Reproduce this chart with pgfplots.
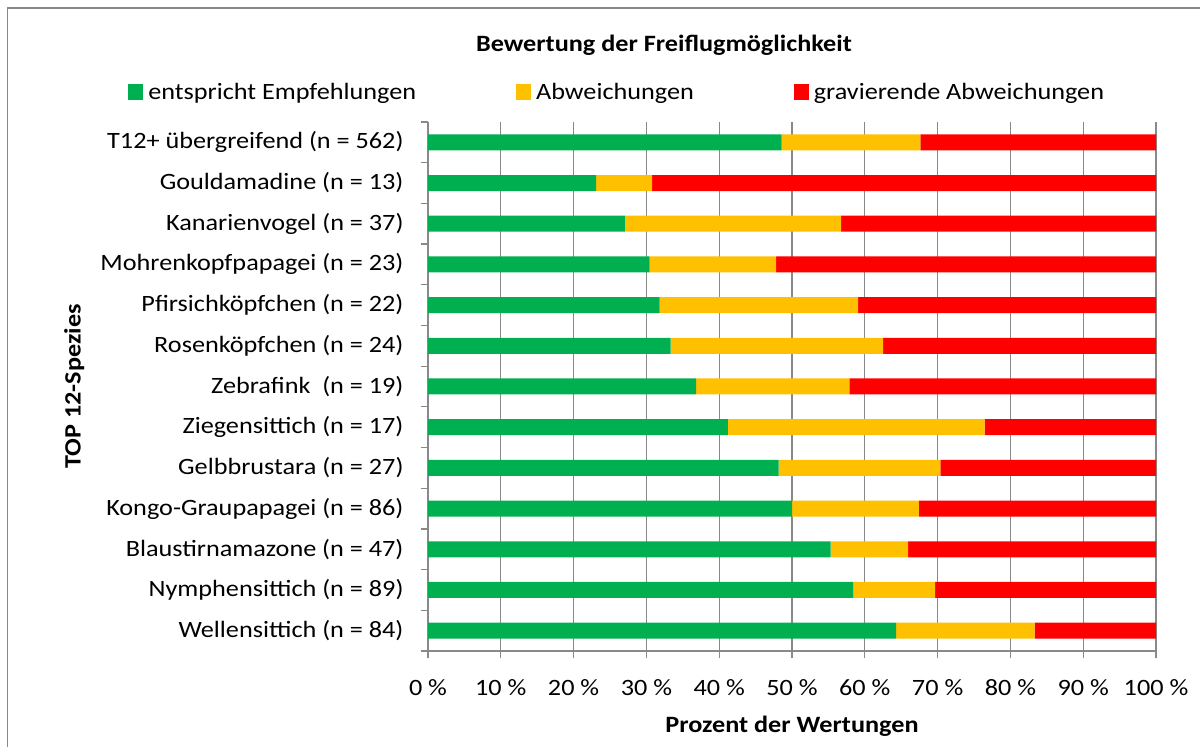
\documentclass[border=0pt]{standalone}
\usepackage{pgfplots}
\pgfplotsset{compat=1.18}
\usepackage{fontspec}
\setmainfont{Carlito}[FakeStretch=1.12]
\definecolor{cgreen}{HTML}{00B050}
\definecolor{cyellow}{HTML}{FFC000}
\definecolor{cred}{HTML}{FF0000}
\definecolor{cgrid}{HTML}{898989}
\newcommand{\fs}{\fontsize{23.5}{28}\selectfont}
\begin{document}
\begin{tikzpicture}[x=1bp,y=1bp]
\path[use as bounding box] (0,0) rectangle (1200,747);
\draw[cgrid, line width=1.6bp] (7.5,-30) rectangle (1230,739);
\node[font=\fs\bfseries, anchor=base] at (664,695) {Bewertung der Freiflugmöglichkeit};
\begin{axis}[
  at={(428bp,96bp)}, anchor=south west,
  scale only axis, width=728bp, height=529bp,
  xbar stacked, bar width=16bp,
  xmin=0, xmax=100,
  ymin=-0.5, ymax=12.5,
  xtick={0,10,...,100},
  xticklabels={0 \%,10 \%,20 \%,30 \%,40 \%,50 \%,60 \%,70 \%,80 \%,90 \%,100 \%},
  ytick={-0.5,0.5,...,12.5},
  yticklabels={},
  extra y ticks={0,...,12},
  extra y tick labels={Wellensittich (n = 84),Nymphensittich (n = 89),Blaustirnamazone (n = 47),Kongo-Graupapagei (n = 86),Gelbbrustara (n = 27),Ziegensittich (n = 17),Zebrafink\ \ (n = 19),Rosenköpfchen (n = 24),Pfirsichköpfchen (n = 22),Mohrenkopfpapagei (n = 23),Kanarienvogel (n = 37),Gouldamadine (n = 13),T12+ übergreifend (n = 562)},
  extra y tick style={major tick length=0pt},
  axis x line*=bottom, axis y line*=left,
  axis line style={cgrid, line width=1.2bp},
  xmajorgrids, major grid style={cgrid, line width=1.2bp},
  major tick style={cgrid, line width=1.2bp},
  major tick length=7.5bp,
  tick align=outside,
  tick label style={font=\fs},
  yticklabel style={xshift=-21bp},
  xticklabel style={anchor=base, yshift=-37bp},
  xlabel={\textbf{Prozent der Wertungen}},
  ylabel={\textbf{TOP 12-Spezies}},
  label style={font=\fs},
  xlabel style={at={(axis description cs:0.5,-0.155)}, anchor=base},
  ylabel style={at={(axis description cs:-0.486,0.5)}, anchor=center},
  legend columns=3,
  legend style={draw=none, fill=none, at={(-0.412,1.0567)}, anchor=west,
    font=\fs, inner sep=0pt,
    /tikz/every odd column/.append style={column sep=3bp},
    /tikz/every even column/.append style={column sep=98bp}},
  legend image code/.code={\fill[#1] (0bp,-8bp) rectangle (15bp,8bp);},
]
\addplot[fill=cgreen, draw=none] coordinates {
(64.29,0) (58.43,1) (55.32,2) (50.00,3) (48.15,4) (41.18,5) (36.84,6) (33.33,7) (31.82,8) (30.43,9) (27.03,10) (23.08,11) (48.58,12)};
\addplot[fill=cyellow, draw=none] coordinates {
(19.05,0) (11.24,1) (10.64,2) (17.44,3) (22.22,4) (35.29,5) (21.05,6) (29.17,7) (27.27,8) (17.39,9) (29.73,10) (7.69,11) (19.04,12)};
\addplot[fill=cred, draw=none] coordinates {
(16.67,0) (30.34,1) (34.04,2) (32.56,3) (29.63,4) (23.53,5) (42.11,6) (37.50,7) (40.91,8) (52.17,9) (43.24,10) (69.23,11) (32.38,12)};
\legend{entspricht Empfehlungen, Abweichungen, gravierende Abweichungen}
\end{axis}
\end{tikzpicture}
\end{document}
